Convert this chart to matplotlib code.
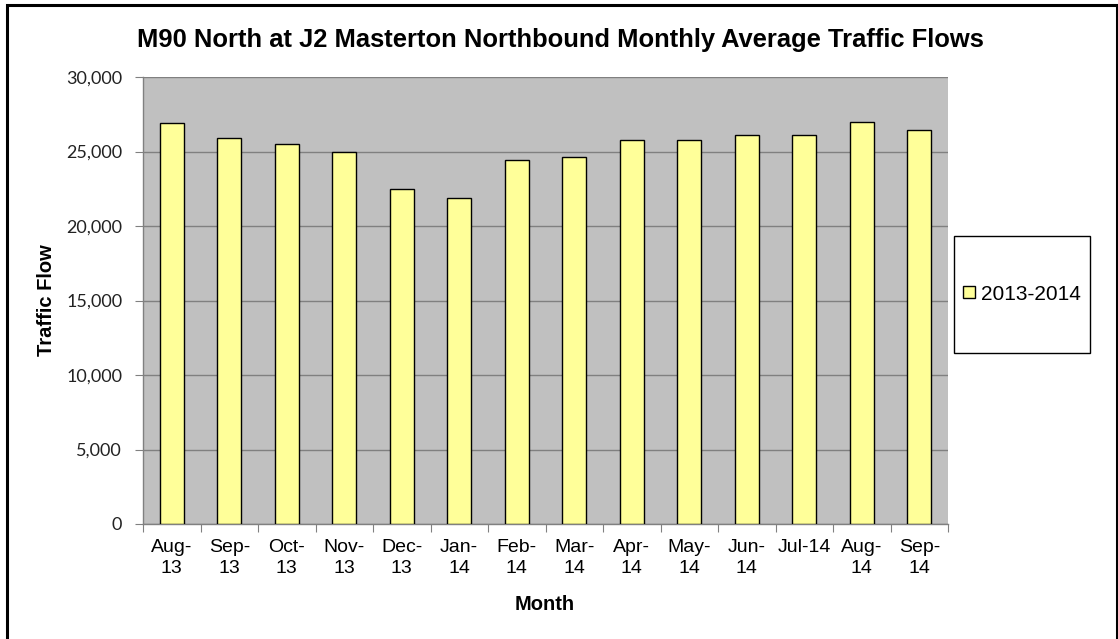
import numpy as np
import matplotlib.pyplot as plt
from matplotlib.patches import Rectangle

# Monthly average traffic flows, northbound
months = ["Aug-\n13", "Sep-\n13", "Oct-\n13", "Nov-\n13", "Dec-\n13", "Jan-\n14", "Feb-\n14",
          "Mar-\n14", "Apr-\n14", "May-\n14", "Jun-\n14", "Jul-14", "Aug-\n14", "Sep-\n14"]
flows = [26900, 25900, 25500, 25000, 22500, 21900, 24450,
         24600, 25750, 25750, 26100, 26100, 26950, 26450]
series_name = "2013-2014"
y_ticks = [0, 5000, 10000, 15000, 20000, 25000, 30000]

W, H = 1118, 639
fig = plt.figure(figsize=(W / 100, H / 100), dpi=100)
fig.patch.set_facecolor("white")


def fx(px):
    return px / W


def fy(py):
    return 1 - py / H


# outer chart border
fig.patches.append(Rectangle((fx(7), -0.01), fx(1110), fy(5) + 0.01,
                             transform=fig.transFigure, fill=False,
                             edgecolor="black", linewidth=2.2))

ax = fig.add_axes([fx(143), fy(524), fx(948 - 143), (524 - 77) / H])
ax.set_facecolor("#C0C0C0")

x = np.arange(len(months))
bars = ax.bar(x, flows, width=0.42, color="#FFFF99", edgecolor="black",
              linewidth=1.0, label=series_name, zorder=3)

ax.set_ylim(0, 30000)
ax.set_xlim(-0.5, len(months) - 0.5)
ax.set_yticks(y_ticks)
ax.set_yticklabels([f"{v:,}" for v in y_ticks], family="Lato", fontsize=13, color="#222222")
ax.yaxis.grid(True, color="#808080", linewidth=1.0, zorder=1)
ax.set_axisbelow(True)

# category boundaries as ticks, names centred under bars
ax.set_xticks(np.arange(len(months) + 1) - 0.5)
ax.set_xticklabels([])
ax.set_xticks(x, minor=True)
ax.set_xticklabels(months, minor=True, family="Liberation Sans", fontsize=14,
                   linespacing=1.3)
ax.tick_params(axis="x", which="major", length=6, color="#808080", direction="out")
ax.tick_params(axis="x", which="minor", length=0, pad=11)
ax.tick_params(axis="y", length=6, color="#808080", pad=9)

for side in ["top", "right"]:
    ax.spines[side].set_visible(False)
for side in ["left", "bottom"]:
    ax.spines[side].set_color("#808080")
    ax.spines[side].set_linewidth(1.0)

fig.text(fx(47), fy(300), "Traffic Flow", rotation=90, ha="center", va="center",
         family="Liberation Sans", fontsize=14.5, fontweight="bold")
fig.text(fx(545), fy(604), "Month", ha="center", va="center",
         family="Liberation Sans", fontsize=14.5, fontweight="bold")

fig.text(fx(560), fy(47),
         "M90 North at J2 Masterton Northbound Monthly Average Traffic Flows",
         ha="center", va="baseline", family="Liberation Sans", fontsize=18.4,
         fontweight="bold")

# legend box on the right
fig.patches.append(Rectangle((fx(954), fy(353)), fx(1090 - 954), (353 - 236) / H,
                             transform=fig.transFigure, fill=True, facecolor="white",
                             edgecolor="black", linewidth=1.0))
leg = fig.legend(handles=[bars], labels=[series_name],
                 loc="center", bbox_to_anchor=(fx((954 + 1090) / 2), fy(294)),
                 prop={"family": "Liberation Sans", "size": 15},
                 frameon=False, handlelength=0.55, handleheight=0.55,
                 handletextpad=0.3, borderpad=0.0)

fig.savefig("out.png", dpi=100)
